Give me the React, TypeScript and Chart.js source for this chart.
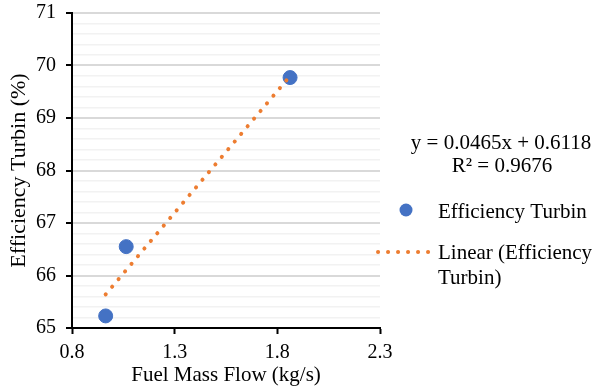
import { useEffect, useRef } from 'react';
import { Chart, registerables } from 'chart.js';

Chart.register(...registerables);

const fuelMassFlow = [0.964, 1.064, 1.862];
const efficiencyTurbin = [65.23, 66.55, 69.77];
const trendX = [0.964, 1.862];
const trendY = [65.64, 69.8];
const xMin = 0.8;
const xMax = 2.3;
const xStep = 0.5;
const yMin = 65;
const yMax = 71;
const yMinorStep = 0.2;
const xTitle = 'Fuel Mass Flow (kg/s)';
const yTitle = 'Efficiency Turbin (%)';
const equationText = 'y = 0.0465x + 0.6118';
const r2Text = 'R² = 0.9676';
const seriesName = 'Efficiency Turbin';
const trendNameLines = ['Linear (Efficiency', 'Turbin)'];

const FONT = "'Liberation Serif', 'Times New Roman', serif";
const BLUE = '#4472C4';
const ORANGE = '#ED7D31';

const isMajor = (v: number) => Math.abs(v - Math.round(v)) < 1e-6;

const legendPlugin = {
  id: 'customLegend',
  afterDraw(chart: any) {
    const ctx = chart.ctx as CanvasRenderingContext2D;
    ctx.save();
    ctx.fillStyle = '#000';
    ctx.font = `21px ${FONT}`;
    ctx.textBaseline = 'middle';
    ctx.textAlign = 'center';
    ctx.fillText(equationText, 501, 143);
    ctx.fillText(r2Text, 502, 166);
    ctx.textAlign = 'left';
    ctx.beginPath();
    ctx.fillStyle = BLUE;
    ctx.arc(406, 210, 6.5, 0, Math.PI * 2);
    ctx.fill();
    ctx.fillStyle = '#000';
    ctx.fillText(seriesName, 438, 212);
    ctx.beginPath();
    ctx.strokeStyle = ORANGE;
    ctx.lineWidth = 4;
    ctx.lineCap = 'round';
    ctx.setLineDash([0.1, 9.9]);
    ctx.moveTo(378, 252);
    ctx.lineTo(432, 252);
    ctx.stroke();
    ctx.setLineDash([]);
    ctx.fillText(trendNameLines[0], 438, 253);
    ctx.fillText(trendNameLines[1], 438, 278);
    ctx.restore();
  },
};

export default function App() {
  const ref = useRef<HTMLCanvasElement>(null);

  useEffect(() => {
    document.body.style.margin = '0';
    const canvas = ref.current;
    if (!canvas) return;
    const chart = new Chart(canvas, {
      type: 'scatter',
      data: {
        datasets: [
          {
            type: 'line',
            label: 'Linear (Efficiency Turbin)',
            data: trendX.map((x, i) => ({ x, y: trendY[i] })),
            borderColor: ORANGE,
            borderWidth: 4,
            borderDash: [0.1, 9.9],
            borderCapStyle: 'round',
            pointRadius: 0,
            fill: false,
            order: 1,
          } as any,
          {
            type: 'scatter',
            label: seriesName,
            data: fuelMassFlow.map((x, i) => ({ x, y: efficiencyTurbin[i] })),
            backgroundColor: BLUE,
            borderColor: BLUE,
            pointRadius: 7,
            pointHoverRadius: 7,
            order: 2,
          },
        ],
      },
      options: {
        responsive: false,
        animation: false,
        events: [],
        layout: { padding: { top: 13, right: 216, left: 0, bottom: 0 } },
        plugins: { legend: { display: false }, tooltip: { enabled: false } },
        scales: {
          x: {
            type: 'linear',
            min: xMin,
            max: xMax,
            afterFit: (s: any) => {
              s.height = 61;
              s.paddingLeft = 0;
              s.paddingRight = 0;
            },
            ticks: {
              stepSize: xStep,
              color: '#000',
              font: { family: FONT, size: 20 },
              padding: 7,
              callback: (v: any) => Number(v).toFixed(1),
            },
            grid: {
              drawOnChartArea: false,
              drawTicks: true,
              tickLength: 6,
              tickColor: '#000',
              tickWidth: 2,
            },
            border: { display: true, color: '#000', width: 2 },
            title: {
              display: true,
              text: xTitle,
              color: '#000',
              font: { family: FONT, size: 21 },
              padding: { top: 0, bottom: 1 },
            },
          },
          y: {
            type: 'linear',
            min: yMin,
            max: yMax,
            afterFit: (s: any) => {
              s.width = 72;
              s.paddingTop = 0;
              s.paddingBottom = 0;
            },
            ticks: {
              stepSize: yMinorStep,
              autoSkip: false,
              color: '#000',
              font: { family: FONT, size: 20 },
              padding: 10,
              callback: (v: any) => (isMajor(Number(v)) ? String(Math.round(Number(v))) : ''),
            },
            grid: {
              drawTicks: true,
              tickLength: 6,
              lineWidth: (c: any) => (isMajor(c.tick.value) ? 2 : 1.5),
              color: (c: any) => (isMajor(c.tick.value) ? '#d9d9d9' : '#f2f2f2'),
              tickColor: (c: any) => (isMajor(c.tick.value) ? '#000' : 'rgba(0,0,0,0)'),
              tickWidth: 2,
            },
            border: { display: true, color: '#000', width: 2 },
            title: {
              display: true,
              text: yTitle,
              color: '#000',
              font: { family: FONT, size: 22 },
              padding: { top: 6, bottom: 0 },
            },
          },
        },
      },
      plugins: [legendPlugin],
    });
    return () => chart.destroy();
  }, []);

  return (
    <div style={{ width: 596, height: 389, background: '#fff' }}>
      <canvas ref={ref} width={596} height={389} style={{ display: 'block' }} />
    </div>
  );
}
